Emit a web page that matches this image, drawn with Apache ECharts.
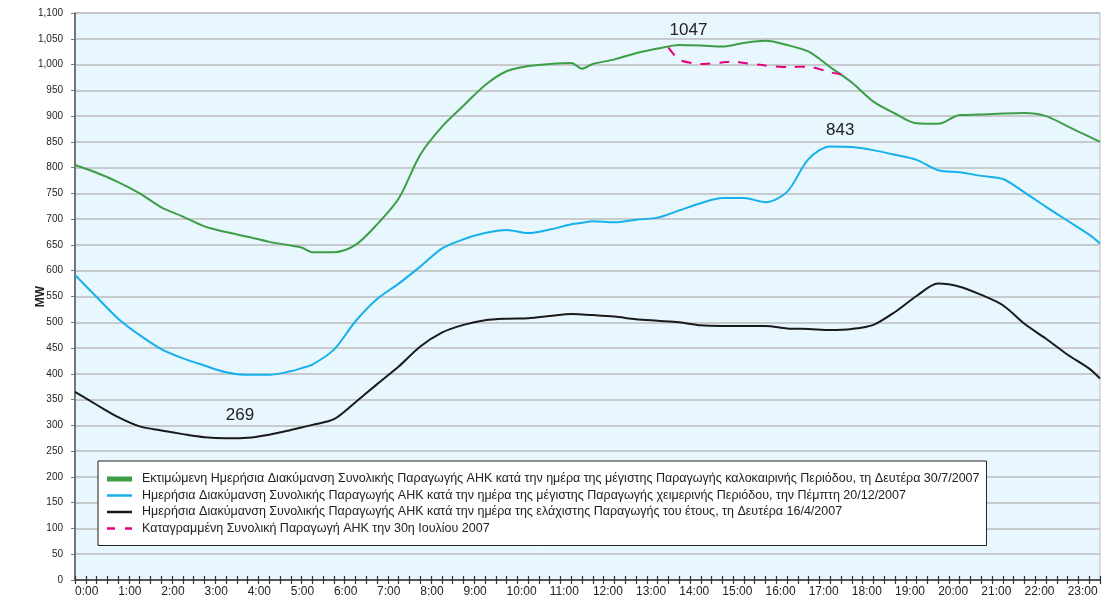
<!DOCTYPE html>
<html>
<head>
<meta charset="utf-8">
<script src="https://cdn.jsdelivr.net/npm/echarts@6/dist/echarts.min.js"></script>
<style>
  html, body { margin: 0; padding: 0; background: #fff; }
  #chart { width: 1105px; height: 606px; }
</style>
</head>
<body>
<div id="chart"></div>
<script>
// ώρες μετρήσεων (κάθε μισή ώρα, και μερικά ενδιάμεσα)
const times = ['0:00','0:30','1:00','1:30','2:00','2:30','3:00','3:30','4:00','4:30','5:00','5:15','5:30',
  '6:00','6:30','7:00','7:30','8:00','8:30','9:00','9:30','10:00','10:30','11:00','11:30','11:45',
  '12:00','12:30','13:00','13:30','14:00','14:30','15:00','15:30','16:00','16:30','17:00','17:30',
  '18:00','18:30','19:00','19:30','20:00','20:30','21:00','21:30','22:00','22:30','23:00','23:30','23:45'];

// εκτιμώμενη μέγιστη καλοκαιριού 30/7/2007
const summerMax = [805,790,772,750,723,705,686,675,666,656,649,645,636,
  636,650,690,740,825,879,920,960,987,997,1001,1003,992,
  1001,1010,1022,1031,1038,1037,1035,1042,1046,1038,1025,995,
  965,928,905,886,885,902,903,905,906,900,880,860,850];

// μέγιστη χειμώνα 20/12/2007
const winterMax = [592,549,507,475,448,430,416,403,398,398,405,411,418,
  447,502,545,575,608,643,661,673,679,673,680,690,693,
  696,694,699,703,717,731,741,741,733,753,817,841,
  840,834,825,815,795,791,784,778,752,724,697,670,653];

// ελάχιστη του έτους 16/4/2007
const yearMin = [365,340,316,298,290,283,277,275,276,282,291,296,301,
  312,345,380,414,453,480,495,504,507,508,512,516,515,
  514,511,506,503,500,494,493,493,493,488,487,485,
  487,495,520,551,575,569,553,533,497,468,437,410,391];

// καταγραμμένη 30/7/2007
const recordedTimes = ['13:45','14:00','14:30','15:00','15:15','15:30','16:00','16:30','17:00','17:30','17:45'];
const recordedValues = [1033,1009,1001,1004,1006,1003,998,995,996,985,981];

const seriesNames = [
  'Εκτιμώμενη Ημερήσια Διακύμανση Συνολικής Παραγωγής ΑΗΚ κατά την ημέρα της μέγιστης Παραγωγής καλοκαιρινής Περιόδου, τη Δευτέρα 30/7/2007',
  'Ημερήσια Διακύμανση Συνολικής Παραγωγής ΑΗΚ κατά την ημέρα της μέγιστης Παραγωγής χειμερινής Περιόδου, την Πέμπτη 20/12/2007',
  'Ημερήσια Διακύμανση Συνολικής Παραγωγής ΑΗΚ κατά την ημέρα της ελάχιστης Παραγωγής του έτους, τη Δευτέρα 16/4/2007',
  'Καταγραμμένη Συνολική Παραγωγή ΑΗΚ την 30η Ιουλίου 2007'
];
const peakLabels = ['1047', '843', '269'];

const FONT = '"Liberation Sans", Arial, sans-serif';

// εικονίδια υπομνήματος (πλαίσιο 25x5)
const ICON_THICK = 'path://M0,0H25V5H0Z';
const ICON_THIN = 'path://M0,0L0,0M0,1.25H25V3.75H0ZM25,5L25,5';
const ICON_DASH = 'path://M0,0L0,0M0,1.25H8V3.75H0ZM18,1.25H25V3.75H18ZM25,5L25,5';

// 'H:MM' -> λεπτά
const toMin = t => {
  const [h, m] = t.split(':').map(Number);
  return h * 60 + m;
};
const pairs = (ts, vs) => ts.map((t, i) => [toMin(t), vs[i]]);

const peakMark = (type, text, offset) => ({
  symbol: 'circle',
  symbolSize: 0,
  silent: true,
  data: [{ type }],
  label: {
    show: true,
    position: 'inside',
    offset,
    formatter: text,
    color: '#222',
    fontSize: 17,
    fontFamily: FONT
  }
});

const chart = echarts.init(document.getElementById('chart'));

const xBase = {
  type: 'value',
  position: 'bottom',
  min: 0,
  max: 1425,
  interval: 15,
  splitLine: { show: false }
};

chart.setOption({
  animation: false,
  textStyle: { fontFamily: FONT },
  grid: {
    left: 75, right: 5, top: 13, bottom: 26,
    show: true,
    backgroundColor: '#e8f6fd',
    borderColor: '#bdbdbd',
    borderWidth: 1
  },
  legend: {
    orient: 'vertical',
    left: 98,
    top: 461,
    padding: [11, 7, 10, 9],
    itemGap: 2.5,
    itemWidth: 25,
    itemHeight: 5,
    backgroundColor: '#fff',
    borderColor: '#222',
    borderWidth: 1,
    itemStyle: { borderWidth: 0 },
    textStyle: { fontSize: 12.5, lineHeight: 14, color: '#222', fontFamily: FONT, padding: [0, 0, 0, 5] },
    data: [
      { name: seriesNames[0], icon: ICON_THICK },
      { name: seriesNames[1], icon: ICON_THIN },
      { name: seriesNames[2], icon: ICON_THIN },
      { name: seriesNames[3], icon: ICON_DASH }
    ]
  },
  xAxis: [
    Object.assign({}, xBase, {
      axisLine: { show: true, lineStyle: { color: '#333', width: 1.5 } },
      axisTick: { show: true, length: 4, lineStyle: { color: '#333', width: 1.2 } },
      axisLabel: {
        color: '#222',
        fontSize: 12,
        align: 'left',
        margin: 6,
        formatter: v => (v % 60 === 0 ? (v / 60) + ':00' : '')
      }
    }),
    Object.assign({}, xBase, {
      axisLine: { show: false },
      axisTick: { show: true, inside: true, length: 4, lineStyle: { color: '#333', width: 1.2 } },
      axisLabel: { show: false }
    })
  ],
  yAxis: {
    type: 'value',
    min: 0,
    max: 1100,
    interval: 50,
    name: 'MW',
    nameLocation: 'middle',
    nameGap: 28,
    nameMoveOverlap: false,
    nameTextStyle: { fontSize: 12, fontWeight: 'bold', color: '#222' },
    axisLine: { show: true, lineStyle: { color: '#555', width: 1.5 } },
    axisTick: { show: true, length: 4, lineStyle: { color: '#777' } },
    axisLabel: {
      color: '#222',
      fontSize: 10,
      margin: 12,
      formatter: v => v.toLocaleString('en-US')
    },
    splitLine: { lineStyle: { color: '#bdbdbd', width: 1.5 } }
  },
  series: [
    {
      name: seriesNames[0],
      type: 'line',
      smooth: 0.3,
      symbol: 'none',
      data: pairs(times, summerMax),
      color: '#3d9e47',
      lineStyle: { color: '#3d9e47', width: 2 },
      markPoint: peakMark('max', peakLabels[0], [-77, -11]),
      z: 3
    },
    {
      name: seriesNames[1],
      type: 'line',
      smooth: 0.3,
      symbol: 'none',
      data: pairs(times, winterMax),
      color: '#16b1ea',
      lineStyle: { color: '#16b1ea', width: 2 },
      markPoint: peakMark('max', peakLabels[1], [10, -16])
    },
    {
      name: seriesNames[2],
      type: 'line',
      smooth: 0.3,
      symbol: 'none',
      data: pairs(times, yearMin),
      color: '#1a1a1a',
      lineStyle: { color: '#1a1a1a', width: 2 },
      markPoint: peakMark('min', peakLabels[2], [14, -23])
    },
    {
      name: seriesNames[3],
      type: 'line',
      smooth: 0.2,
      symbol: 'none',
      data: pairs(recordedTimes, recordedValues),
      color: '#e6007e',
      lineStyle: { color: '#e6007e', width: 2, type: [10, 9] },
      z: 4
    }
  ]
});
</script>
</body>
</html>
